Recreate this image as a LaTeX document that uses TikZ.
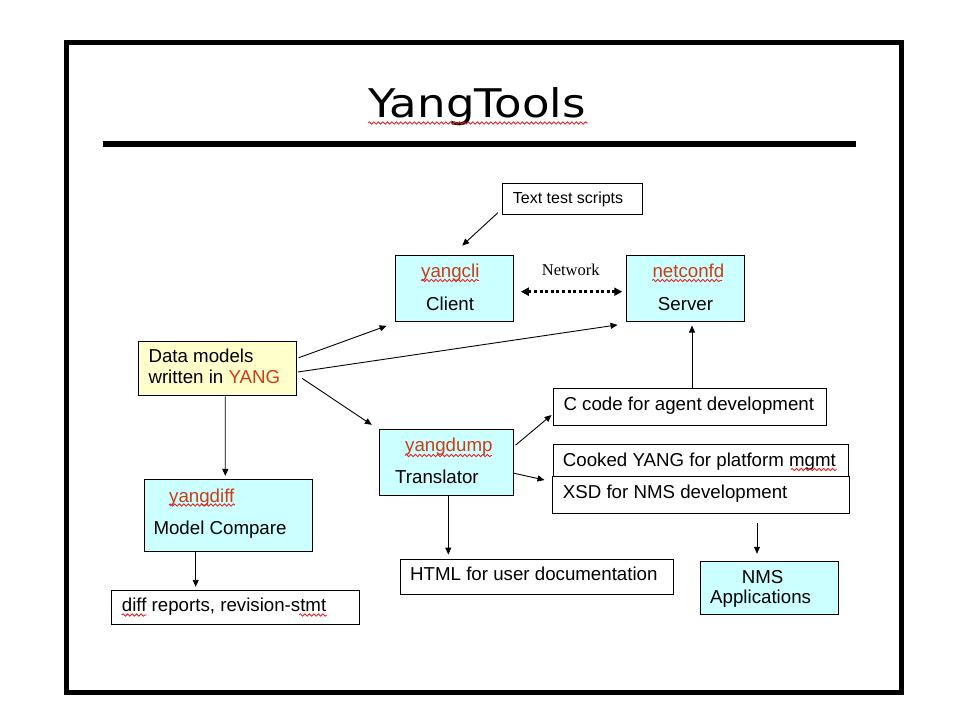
\documentclass[tikz,border=0pt]{standalone}
\usepackage{fontspec}
\setmainfont{Liberation Sans}
\newfontfamily\titlefont{DejaVu Sans}
\newfontfamily\netfont{Liberation Serif}
\usetikzlibrary{arrows.meta,decorations.pathmorphing}
\definecolor{boxcyan}{RGB}{204,255,255}
\definecolor{boxyellow}{RGB}{255,255,204}
\definecolor{yred}{RGB}{205,60,20}
\definecolor{squig}{RGB}{235,30,30}
\tikzset{
  box/.style={draw=black, line width=1pt, inner sep=0pt, fill=white},
  cyanbox/.style={box, fill=boxcyan},
  yellowbox/.style={box, fill=boxyellow},
  txt/.style={anchor=base west, inner sep=0pt, font=\fontsize{18.7}{22}\selectfont},
  smalltxt/.style={anchor=base west, inner sep=0pt, font=\fontsize{16}{19}\selectfont},
  arr/.style={line width=0.9pt, -{Triangle[length=7pt,width=6pt]}},
  netarr/.style={line width=3pt, dash pattern=on 3pt off 2.6pt, {Triangle[length=8pt,width=8pt]}-{Triangle[length=8pt,width=8pt]}},
  squiggle/.style={draw=squig, line width=0.8pt, decorate, decoration={snake, amplitude=1.2pt, segment length=4.5pt}}
}
\begin{document}
\begin{tikzpicture}[x=1pt,y=-1pt]
\useasboundingbox (0,0) rectangle (960,720);
% frame and title
\draw[line width=5pt] (66.5,42.5) rectangle (901.5,692.5);
\draw[line width=6pt] (103,144) -- (856,144);
\node[anchor=base, inner sep=0pt, font=\titlefont\fontsize{39.5}{46}\selectfont] (title) at (477,117) {\scalebox{1.14}[1]{YangTools}};
\draw[squiggle] (368,123) -- (588,123);

% boxes
\node[box, minimum width=140pt, minimum height=31pt] (tts) at (572.3,198.8) {};
\node[cyanbox, minimum width=118.3pt, minimum height=66.3pt] (cli) at (454.2,288.2) {};
\node[cyanbox, minimum width=118.3pt, minimum height=66.3pt] (ncd) at (685.2,288.2) {};
\node[yellowbox, minimum width=157.7pt, minimum height=54.3pt] (dm) at (217.2,368.8) {};
\node[cyanbox, minimum width=134pt, minimum height=65.7pt] (yd) at (446.3,462.2) {};
\node[box, minimum width=272.7pt, minimum height=37.4pt] (cc) at (689.7,407) {};
\node[box, minimum width=295.4pt, minimum height=32.7pt] (ck) at (701,460.7) {};
\node[box, minimum width=296.6pt, minimum height=37.3pt] (xsd) at (701,495.3) {};
\node[cyanbox, minimum width=168pt, minimum height=71.7pt] (ydf) at (228.3,515.8) {};
\node[box, minimum width=248.3pt, minimum height=33.6pt] (dr) at (235.8,607.5) {};
\node[box, minimum width=273.3pt, minimum height=34.7pt] (html) at (536.7,576.7) {};
\node[cyanbox, minimum width=137.6pt, minimum height=53.3pt] (nms) at (769.5,588.3) {};

% texts
\node[smalltxt] (ttsT) at (512.7,203.3) {Text test scripts};
\node[txt, text=yred] (cliA) at (421,277) {yangcli};
\node[txt] (cliB) at (426,310) {Client};
\node[txt, text=yred] (ncdA) at (652.3,277) {netconfd};
\node[txt] (ncdB) at (657.7,310) {Server};
\node[anchor=base west, inner sep=0pt, font=\netfont\fontsize{16.5}{20}\selectfont] (netT) at (541.7,275) {Network};
\node[txt] (dmA) at (148.3,362.7) {Data models};
\node[txt] (dmB) at (148.3,383.3) {written in \textcolor{yred}{YANG}};
\node[txt, text=yred] (ydA) at (405,451.7) {yangdump};
\node[txt] (ydB) at (395,483.3) {Translator};
\node[txt] (ccT) at (563.3,410) {C code for agent development};
\node[txt] (ckT) at (562.7,466) {Cooked YANG for platform mgmt};
\node[txt] (xsdT) at (562.7,498.3) {XSD for NMS development};
\node[txt, text=yred] (ydfA) at (169,502.3) {yangdiff};
\node[txt] (ydfB) at (153.3,534.3) {Model Compare};
\node[txt] (drT) at (121.7,611.7) {diff reports, revision-stmt};
\node[txt] (htmlT) at (410,580.7) {HTML for user documentation};
\node[txt] (nmsA) at (741.7,583.3) {NMS};
\node[txt] (nmsB) at (710,603.3) {Applications};

% spell-check squiggles
\draw[squiggle] (421,280.5) -- (479,280.5);
\draw[squiggle] (652,280.5) -- (722,280.5);
\draw[squiggle] (405,455.5) -- (492,455.5);
\draw[squiggle] (169,505) -- (235,505);
\draw[squiggle] (790.7,469.5) -- (836.7,469.5);
\draw[squiggle] (121.7,615) -- (146.7,615);
\draw[squiggle] (299,615) -- (326.7,615);

% connectors
\draw[arr] ([xshift=-4pt,yshift=2pt]tts.south west) -- ([xshift=8pt,yshift=9pt]cli.north);
\draw[netarr] ([xshift=7pt,yshift=-3.5pt]cli.east) -- ([xshift=-3.3pt,yshift=-3.5pt]ncd.west);
\draw[arr] ([xshift=2pt,yshift=11pt]dm.east) -- ([xshift=-8pt,yshift=-4pt]cli.south west);
\draw[arr] ([xshift=1.3pt,yshift=-3.2pt]dm.east) -- ([xshift=-8pt,yshift=-3pt]ncd.south west);
\draw[arr] ([xshift=5.5pt,yshift=-9.5pt]dm.east) -- ([xshift=-7pt,yshift=4pt]yd.north west);
\draw[arr] ([xshift=8pt]dm.south) -- ([xshift=-3pt,yshift=3.5pt]ydf.north);
\draw[arr] ([xshift=-32.6pt]ydf.south) -- ([xshift=-40.1pt,yshift=3.4pt]dr.north);
\draw[arr] ([xshift=1.7pt,yshift=17pt]yd.east) -- ([xshift=-1.3pt,yshift=-8pt]cc.west);
\draw[arr] ([yshift=-11pt]yd.east) -- ([xshift=-7.7pt,yshift=15.3pt]xsd.west);
\draw[arr] ([xshift=2pt]yd.south) -- ([xshift=-88.4pt,yshift=4.3pt]html.north);
\draw[arr] ([xshift=2.3pt]cc.north) -- ([xshift=6.8pt,yshift=-3.7pt]ncd.south);
\draw[arr] ([xshift=56pt,yshift=-8.7pt]xsd.south) -- ([xshift=-12.5pt,yshift=7.4pt]nms.north);
\end{tikzpicture}
\end{document}
